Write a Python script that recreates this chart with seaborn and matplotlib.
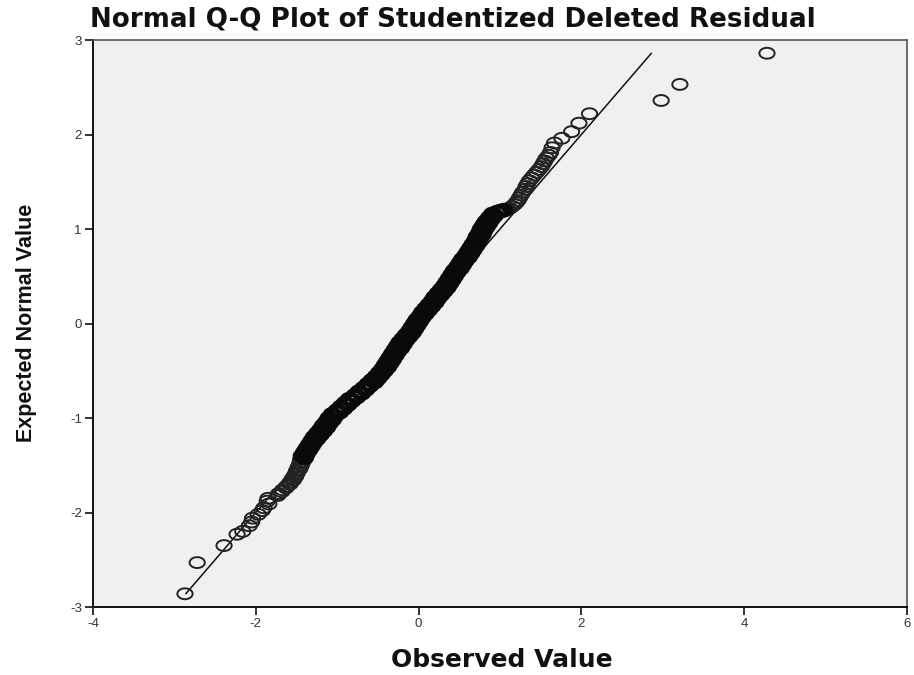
import numpy as np
import pandas as pd
import matplotlib
matplotlib.use("Agg")
import matplotlib.pyplot as plt
from matplotlib.path import Path
import seaborn as sns

# Expected normal value (y) and observed studentized deleted residual (x)
expected = [
    -2.86, -2.53, -2.35, -2.23, -2.20, -2.14, -2.10, -2.06, -2.02, -1.98,
    -1.95, -1.91, -1.88, -1.85,
    -1.82, -1.80, -1.78, -1.76, -1.74, -1.72, -1.70, -1.68, -1.66, -1.64,
    -1.62, -1.60, -1.58, -1.56, -1.54, -1.52, -1.50, -1.48, -1.46, -1.44,
    -1.42, -1.40, -1.38, -1.36, -1.34, -1.32, -1.30, -1.28, -1.26, -1.24,
    -1.22, -1.20, -1.18, -1.16, -1.14, -1.12, -1.10, -1.08, -1.06, -1.04,
    -1.02, -1.00, -0.98, -0.96, -0.94, -0.92, -0.90, -0.88, -0.86, -0.84,
    -0.82, -0.80, -0.78, -0.76, -0.74, -0.72, -0.70, -0.68, -0.66, -0.64,
    -0.62, -0.60, -0.58, -0.56, -0.54, -0.52, -0.50, -0.48, -0.46, -0.44,
    -0.42, -0.40, -0.38, -0.36, -0.34, -0.32, -0.30, -0.28, -0.26, -0.24,
    -0.22, -0.20, -0.18, -0.16, -0.14, -0.12, -0.10, -0.08, -0.06, -0.04,
    -0.02, 0.00, 0.02, 0.04, 0.06, 0.08, 0.10, 0.12, 0.14, 0.16,
    0.18, 0.20, 0.22, 0.24, 0.26, 0.28, 0.30, 0.32, 0.34, 0.36,
    0.38, 0.40, 0.42, 0.44, 0.46, 0.48, 0.50, 0.52, 0.54, 0.56,
    0.58, 0.60, 0.62, 0.64, 0.66, 0.68, 0.70, 0.72, 0.74, 0.76,
    0.78, 0.80, 0.82, 0.84, 0.86, 0.88, 0.90, 0.92, 0.94, 0.96,
    0.98, 1.00, 1.02, 1.04, 1.06, 1.08, 1.10, 1.12, 1.14, 1.16,
    1.18, 1.19, 1.20, 1.21, 1.22, 1.24, 1.26, 1.28, 1.30, 1.33,
    1.36, 1.39, 1.42, 1.45, 1.48, 1.51, 1.54, 1.57, 1.60, 1.63,
    1.66, 1.69, 1.72, 1.75, 1.78, 1.81, 1.86, 1.91, 1.96, 2.03,
    2.12, 2.22, 2.36, 2.53, 2.86,
]
observed = [
    -2.87, -2.72, -2.39, -2.23, -2.16, -2.08, -2.05, -2.04, -1.97, -1.92,
    -1.90, -1.84, -1.86, -1.85,
    -1.73, -1.72, -1.68, -1.67, -1.63, -1.62, -1.58, -1.58, -1.54, -1.55,
    -1.51, -1.52, -1.49, -1.50, -1.46, -1.48, -1.44, -1.46, -1.42, -1.45,
    -1.40, -1.43, -1.38, -1.40, -1.35, -1.37, -1.32, -1.34, -1.29, -1.31,
    -1.25, -1.28, -1.21, -1.24, -1.17, -1.20, -1.13, -1.17, -1.10, -1.13,
    -1.06, -1.10, -1.03, -1.06, -0.97, -1.00, -0.92, -0.95, -0.87, -0.90,
    -0.82, -0.85, -0.76, -0.78, -0.70, -0.73, -0.65, -0.67, -0.60, -0.62,
    -0.54, -0.57, -0.50, -0.52, -0.46, -0.48, -0.42, -0.44, -0.38, -0.41,
    -0.35, -0.38, -0.32, -0.35, -0.29, -0.32, -0.26, -0.29, -0.22, -0.26,
    -0.19, -0.23, -0.16, -0.19, -0.12, -0.15, -0.08, -0.11, -0.05, -0.08,
    -0.02, -0.05, 0.01, -0.02, 0.04, 0.02, 0.08, 0.05, 0.12, 0.09,
    0.16, 0.13, 0.20, 0.17, 0.23, 0.20, 0.27, 0.24, 0.31, 0.28,
    0.35, 0.32, 0.38, 0.35, 0.41, 0.38, 0.44, 0.41, 0.47, 0.44,
    0.51, 0.48, 0.54, 0.51, 0.57, 0.54, 0.61, 0.58, 0.64, 0.61,
    0.67, 0.64, 0.70, 0.67, 0.72, 0.70, 0.75, 0.72, 0.78, 0.75,
    0.80, 0.77, 0.83, 0.80, 0.86, 0.83, 0.89, 0.87, 0.93, 0.91,
    0.97, 1.01, 1.05, 1.09, 1.12, 1.15, 1.18, 1.20, 1.22, 1.24,
    1.26, 1.28, 1.31, 1.32, 1.34, 1.36, 1.39, 1.42, 1.45, 1.48,
    1.51, 1.53, 1.55, 1.57, 1.60, 1.62, 1.64, 1.67, 1.76, 1.88,
    1.97, 2.10, 2.98, 3.21, 4.28,
]
x_ticks = [-4, -2, 0, 2, 4, 6]
y_ticks = [-3, -2, -1, 0, 1, 2, 3]

df = pd.DataFrame({"Observed Value": observed, "Expected Normal Value": expected})
core = df["Expected Normal Value"].between(-1.42, 1.20)
lo, hi = min(expected), max(expected)
ref = pd.DataFrame({"x": [lo, hi], "y": [lo, hi]})

sns.set_theme(style="ticks")
plt.rcParams["font.family"] = ["Liberation Sans", "DejaVu Sans"]
plt.rcParams["axes.unicode_minus"] = False

fig = plt.figure(figsize=(9.14, 6.75), dpi=100)
ax = fig.add_axes([93 / 914, 1 - 607 / 675, (907 - 93) / 914, (607 - 40) / 675])
ax.set_facecolor("#f0f0f0")

# horizontally elongated open circle marker
t = np.linspace(0, 2 * np.pi, 60)
ell = Path(np.column_stack([1.4 * np.cos(t), np.sin(t)]), closed=True)

sns.lineplot(data=ref, x="x", y="y", ax=ax, color="#111111", linewidth=1.1, zorder=2)
sns.scatterplot(data=df[~core], x="Observed Value", y="Expected Normal Value", ax=ax,
                marker=ell, s=120, facecolors="none", edgecolor="#222222",
                linewidth=1.4, zorder=3)
sns.scatterplot(data=df[core], x="Observed Value", y="Expected Normal Value", ax=ax,
                marker=ell, s=125, facecolors="none", edgecolor="#0a0a0a",
                linewidth=2.5, zorder=3)

ax.set_xlim(-4, 6)
ax.set_ylim(-3, 3)
ax.set_xticks(x_ticks)
ax.set_yticks(y_ticks)
ax.tick_params(axis="both", direction="out", length=6, width=1.2, colors="#111111",
               labelsize=9.5, labelcolor="#333333", pad=2)
for side in ["left", "bottom"]:
    ax.spines[side].set_color("#111111")
    ax.spines[side].set_linewidth(1.4)
for side in ["top", "right"]:
    ax.spines[side].set_visible(True)
    ax.spines[side].set_color("#555555")
    ax.spines[side].set_linewidth(1.2)

ax.set_xlabel("Observed Value", fontsize=18, fontweight="bold", color="#111111",
              family=["DejaVu Sans"])
ax.xaxis.set_label_coords((502 - 93) / (907 - 93), -(660 - 607) / (607 - 40))
ax.xaxis.label.set_va("center")
ax.set_ylabel("Expected Normal Value", fontsize=15.5, fontweight="bold", color="#111111",
              family=["Liberation Sans Narrow", "Liberation Sans"])
ax.yaxis.set_label_coords(-(93 - 27) / (907 - 93), (607 - 323) / (607 - 40))
ax.yaxis.label.set_va("center")
fig.text(453 / 914, 1 - 19 / 675, "Normal Q-Q Plot of Studentized Deleted Residual",
         ha="center", va="center", fontsize=18.8, fontweight="bold", color="#111111",
         family=["DejaVu Sans"])

fig.savefig("out.png", dpi=100)
